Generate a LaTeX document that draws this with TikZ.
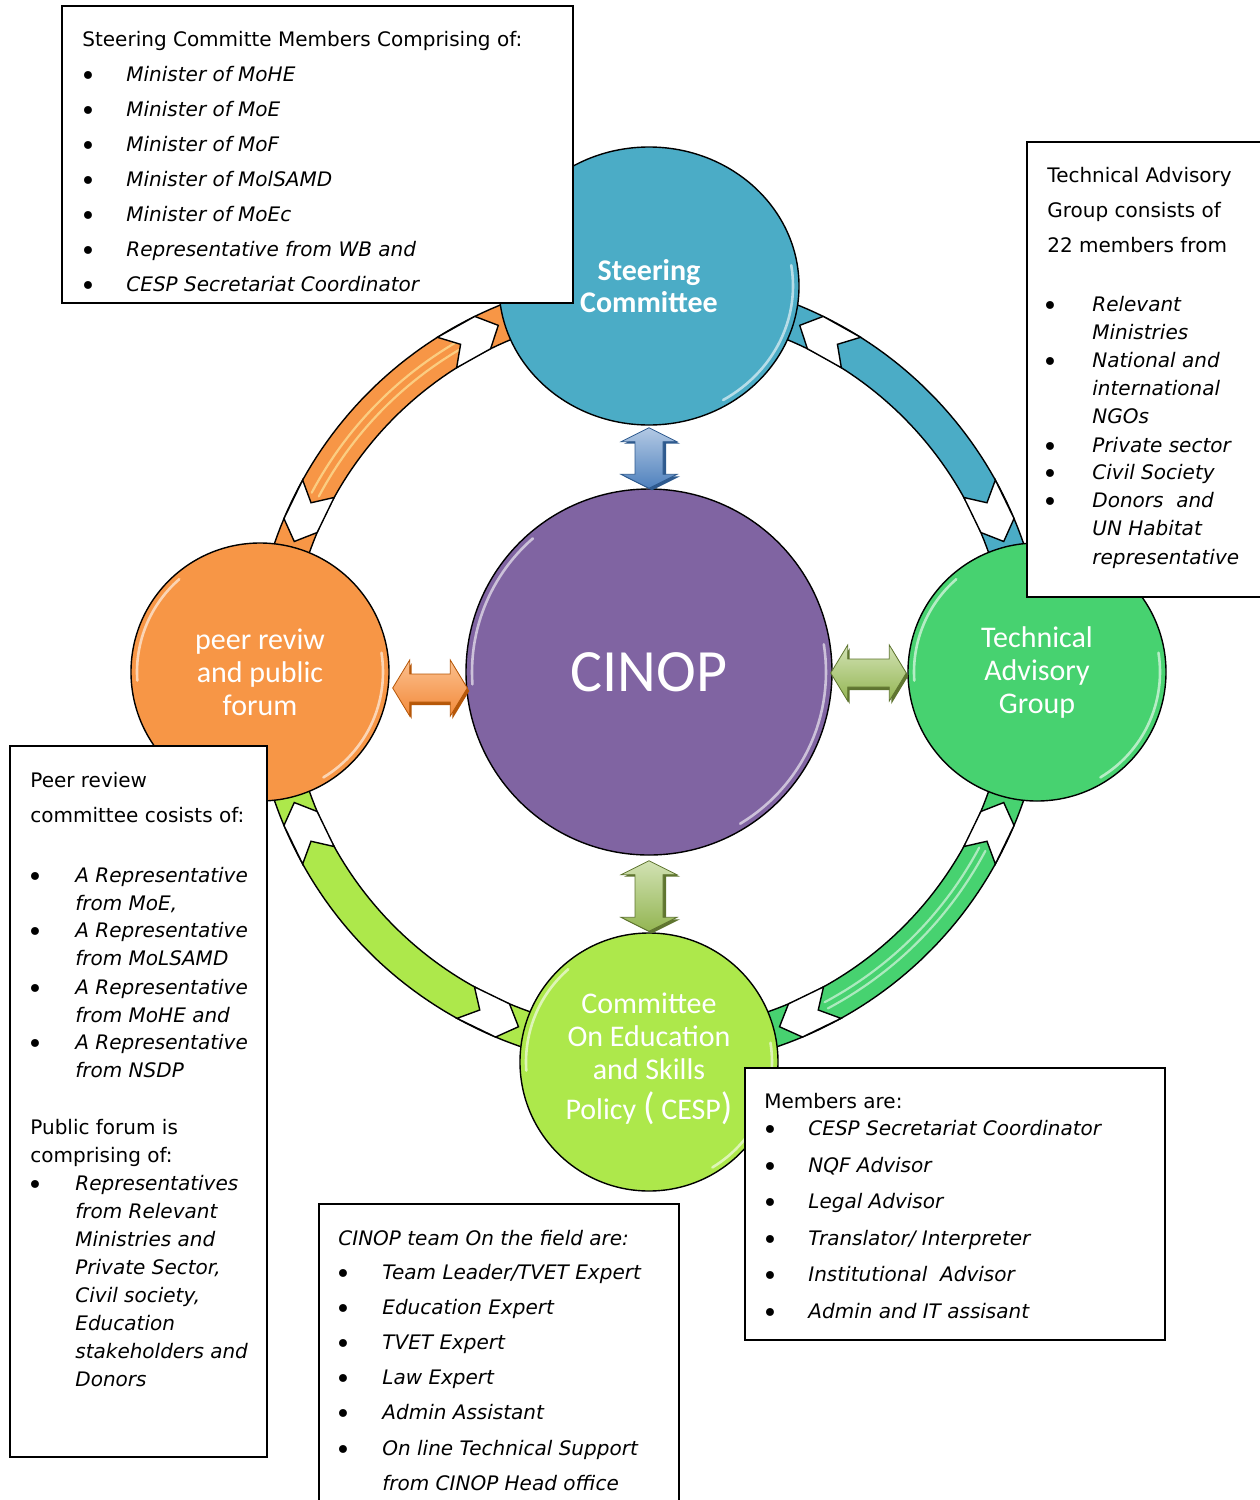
\documentclass[tikz,border=0pt]{standalone}
\usepackage{fontspec}
\setmainfont{DejaVu Sans}
\newfontfamily\circfont{Carlito}
\usetikzlibrary{calc,shapes.geometric}

\definecolor{scblue}{HTML}{4BACC6}
\definecolor{cinoppurple}{HTML}{8064A2}
\definecolor{tagreen}{HTML}{47D270}
\definecolor{peerorange}{HTML}{F79646}
\definecolor{cesplime}{HTML}{ADE84B}
\definecolor{arrbluelight}{HTML}{B3C9E4}
\definecolor{arrblue}{HTML}{4F81BD}
\definecolor{arrblueshade}{HTML}{2E5A8E}
\definecolor{arrgreenlight}{HTML}{D2E2B4}
\definecolor{arrgreen}{HTML}{93B552}
\definecolor{arrgreenshade}{HTML}{5F7530}
\definecolor{arrorangelight}{HTML}{FBC08F}
\definecolor{arrorange}{HTML}{F38A3A}
\definecolor{arrorangeshade}{HTML}{B65708}

% coloured band of the outer ring between two angles
\newcommand\ringband[3]{%
  \fill[#1] plot[domain=#2:#3,samples=60] (\x:396) -- plot[domain=#3:#2,samples=60] (\x:360) -- cycle;
  \draw[bandline] plot[domain=#2:#3,samples=60] (\x:396);
  \draw[bandline] plot[domain=#2:#3,samples=60] (\x:360);
}
% white chevron on the ring: tip angle, side (+1 tail towards larger angles)
\newcommand\ringchevron[2]{%
  \filldraw[chev] (#1:378) -- ({#1+#2*2.6}:396) -- ({#1+#2*8.8}:396) -- ({#1+#2*6.4}:378)
    -- ({#1+#2*8.8}:360) -- ({#1+#2*2.6}:360) -- cycle;
}
% glossy rim on a round bubble: centre x, centre y, radius
\newcommand\rimglint[3]{%
  \begin{scope}[shift={(#1,#2)}]
    \draw[glint] plot[domain=176:229,samples=30] (\x:{#3-6});
    \draw[glint] plot[domain=-9:59,samples=30] (\x:{#3-6});
  \end{scope}
}
% vertical double arrow: top tip, bottom tip, light, main, shadow colour
\newcommand\vdarrow[5]{%
  \fill[#5] ($(#1)+(3,2)$) -- ++(28,14) -- ++(-14,0) -- ($(#2)+(17,-12)$) -- ++(14,0)
    -- ($(#2)+(3,2)$) -- ++(-28,-14) -- ++(14,0) -- ($(#1)+(-11,16)$) -- ++(-14,0) -- cycle;
  \shadedraw[top color=#3, bottom color=#4, draw=#5, line width=.4pt]
    (#1) -- ++(28,14) -- ++(-14,0) -- ($(#2)+(14,-14)$) -- ++(14,0)
    -- (#2) -- ++(-28,-14) -- ++(14,0) -- ($(#1)+(-14,14)$) -- ++(-14,0) -- cycle;
}
% horizontal double arrow: left tip, right tip, light, main, shadow colour
\newcommand\hdarrow[5]{%
  \fill[#5] ($(#1)+(2,3)$) -- ++(17,-28) -- ++(0,14) -- ($(#2)+(-15,-11)$) -- ++(0,-14)
    -- ($(#2)+(2,3)$) -- ++(-17,28) -- ++(0,-14) -- ($(#1)+(19,17)$) -- ++(0,14) -- cycle;
  \shadedraw[top color=#3, bottom color=#4, draw=#5, line width=.4pt]
    (#1) -- ++(17,-28) -- ++(0,14) -- ($(#2)+(-17,-14)$) -- ++(0,-14)
    -- (#2) -- ++(-17,28) -- ++(0,-14) -- ($(#1)+(17,14)$) -- ++(0,14) -- cycle;
}

\begin{document}
\begin{tikzpicture}[x=0.5pt, y=-0.5pt,
  bandline/.style={black, line width=0.7pt},
  chev/.style={fill=white, draw=black, line width=0.7pt},
  bubble/.style={draw=black, line width=0.7pt, text=white, align=center, inner sep=0pt,
    font=\circfont\fontsize{15}{16.5}\selectfont},
  glint/.style={white, opacity=0.6, line width=1.3pt, line cap=round},
  shine/.style={line width=1.1pt, opacity=0.55, line cap=round},
  infobox/.style={draw=black, line width=1pt, fill=white, rectangle, inner sep=0pt},
  txt/.style={anchor=base west, inner sep=0pt, yshift=-3pt, font=\fontsize{10}{12}\selectfont},
  itm/.style={txt, font=\fontsize{10}{12}\selectfont\itshape},
  bul/.style={anchor=base, inner sep=0pt, yshift=-5.2pt, font=\fontsize{13.5}{12}\selectfont}]

\fill[white] (0,0) rectangle (1259,1500);
\useasboundingbox (0,0) rectangle (1259,1500);

% ---- outer cycle ring
\begin{scope}[shift={(649,672)}]
  \ringband{tagreen}{6}{84}
  \ringband{cesplime}{96}{174}
  \ringband{peerorange}{186}{262}
  \ringband{scblue}{278}{354}
  \draw[shine, white] plot[domain=28:62,samples=30] (\x:381);
  \draw[shine, white] plot[domain=28:62,samples=30] (\x:374);
  \draw[shine, yellow!30] plot[domain=208:240,samples=30] (\x:382);
  \draw[shine, yellow!30] plot[domain=208:240,samples=30] (\x:374);
  \ringchevron{20.2}{1}   \ringchevron{69.8}{-1}
  \ringchevron{110.2}{1}  \ringchevron{159.8}{-1}
  \ringchevron{200.2}{1}  \ringchevron{246.5}{-1}
  \ringchevron{293.5}{1}  \ringchevron{339.8}{-1}
\end{scope}

% ---- bubbles
\node[bubble, ellipse, fill=scblue, minimum width=150pt, minimum height=139pt,
      font=\circfont\bfseries\fontsize{15}{16}\selectfont] (steer) at (649,286) {Steering\\Committee};
\node[bubble, circle, fill=cinoppurple, minimum size=183pt,
      font=\circfont\fontsize{30}{32}\selectfont] (cinop) at (649,672) {CINOP};
\node[bubble, circle, fill=tagreen, minimum size=129pt] (tag) at (1037,672) {Technical\\Advisory\\Group};
\node[bubble, circle, fill=peerorange, minimum size=129pt] (peer) at (260,672) {peer reviw\\and public\\forum};
\node[bubble, circle, fill=cesplime, minimum size=129pt] (cesp) at (649,1062) {};
\node[text=white, align=center, inner sep=0pt, font=\circfont\fontsize{15}{16.5}\selectfont] (cesptext) at (649,1059)
  {Committee\\On Education\\and Skills\\[3.5pt]Policy {\fontsize{19}{19}\selectfont(} CESP{\fontsize{19}{19}\selectfont)}};

\begin{scope}[shift={(649,286)}]
  \draw[glint] plot[domain=176:229,samples=30] ({144*cos(\x)},{133*sin(\x)});
  \draw[glint] plot[domain=-9:59,samples=30] ({144*cos(\x)},{133*sin(\x)});
\end{scope}
\rimglint{649}{672}{183}
\rimglint{1037}{672}{129}
\rimglint{260}{672}{129}
\rimglint{649}{1062}{129}

% ---- links to the centre
\coordinate (a1) at ($(steer.south)+(0,2)$);
\coordinate (a2) at (cinop.north);
\coordinate (a3) at ($(cinop.south)+(0,5)$);
\coordinate (a4) at ($(cesp.north)+(0,-1)$);
\coordinate (a5) at ($(peer.east)+(3,16)$);
\coordinate (a6) at ($(cinop.west)+(2,16)$);
\coordinate (a7) at ($(cinop.east)+(-2,1)$);
\coordinate (a8) at ($(tag.west)+(-1,1)$);
\vdarrow{a1}{a2}{arrbluelight}{arrblue}{arrblueshade}
\vdarrow{a3}{a4}{arrgreenlight}{arrgreen}{arrgreenshade}
\hdarrow{a5}{a6}{arrorangelight}{arrorange}{arrorangeshade}
\hdarrow{a7}{a8}{arrgreenlight}{arrgreen}{arrgreenshade}

% ---- steering committee members
\node[infobox, minimum width=255.5pt, minimum height=148.5pt] (scbox) at (317.5,154.5) {};
\node[txt] (sc0) at (82,40) {Steering Committe Members Comprising of:};
\foreach \t [count=\i] in {Minister of MoHE, Minister of MoE, Minister of MoF, Minister of MolSAMD,
    Minister of MoEc, Representative from WB and, CESP Secretariat Coordinator}{
  \node[bul] (scb\i) at (88,{40+35*\i}) {•};
  \node[itm] (sci\i) at (126,{40+35*\i}) {\t};
}

% ---- technical advisory group
\node[infobox, minimum width=119.5pt, minimum height=227.5pt] (tagbox) at (1146.5,369.5) {};
\node[txt] (tg1) at (1047,176) {Technical Advisory};
\node[txt] (tg2) at (1047,211) {Group consists of};
\node[txt] (tg3) at (1047,246) {22 members from};
\foreach \y in {305,361,446,473,501}{\node[bul] (tgb\y) at (1050,\y) {•};}
\foreach \y/\t in {305/Relevant, 333/Ministries, 361/National and, 389/international, 417/NGOs,
    446/Private sector, 473/Civil Society, 501/Donors~ and, 529/UN Habitat, 558/representative}{
  \node[itm] (tgi\y) at (1092,\y) {\t};
}

% ---- peer review and public forum
\node[infobox, minimum width=128.5pt, minimum height=355.5pt] (peerbox) at (138.5,1101.5) {};
\node[txt] (pr1) at (30,781) {Peer review};
\node[txt] (pr2) at (30,816) {committee cosists of:};
\foreach \y in {876,931,988,1043,1184}{\node[bul] (prb\y) at (35,\y) {•};}
\foreach \y/\t in {876/A Representative, 904/{from MoE,}, 931/A Representative, 959/from MoLSAMD,
    988/A Representative, 1016/from MoHE and, 1043/A Representative, 1071/from NSDP,
    1184/Representatives, 1212/from Relevant, 1240/Ministries and, 1268/{Private Sector,},
    1296/{Civil society,}, 1324/Education, 1352/stakeholders and, 1380/Donors}{
  \node[itm] (pri\y) at (75,\y) {\t};
}
\node[txt] (pr3) at (30,1128) {Public forum is};
\node[txt] (pr4) at (30,1156) {comprising of:};

% ---- CINOP field team
\node[infobox, minimum width=180pt, minimum height=154pt] (teambox) at (499,1358) {};
\node[itm] (tm0) at (338,1239) {CINOP team On the field are:};
\foreach \y in {1273,1308,1343,1378,1413,1449}{\node[bul] (tmb\y) at (343,\y) {•};}
\foreach \y/\t in {1273/{Team Leader/TVET Expert}, 1308/Education Expert, 1343/TVET Expert,
    1378/Law Expert, 1413/Admin Assistant, 1449/On line Technical Support, 1484/from CINOP Head office}{
  \node[itm] (tmi\y) at (382,\y) {\t};
}

% ---- CESP members
\node[infobox, minimum width=210pt, minimum height=136pt] (cespbox) at (955,1204) {};
\node[txt] (cm0) at (764,1102) {Members are:};
\foreach \y/\t in {1129/CESP Secretariat Coordinator, 1166/NQF Advisor, 1202/Legal Advisor,
    1239/{Translator/ Interpreter}, 1275/Institutional~ Advisor, 1312/Admin and IT assisant}{
  \node[bul] (cmb\y) at (770,\y) {•};
  \node[itm] (cmi\y) at (808,\y) {\t};
}
\end{tikzpicture}
\end{document}
